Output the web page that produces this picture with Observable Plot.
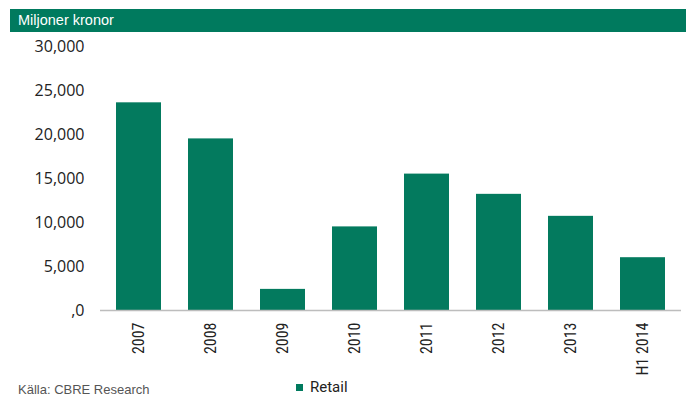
<!DOCTYPE html>
<html>
<head>
<meta charset="utf-8">
<script src="https://cdn.jsdelivr.net/npm/d3@7"></script>
<script src="https://cdn.jsdelivr.net/npm/@observablehq/plot@0.6"></script>
<style>
  html, body { margin: 0; padding: 0; background: #fff; width: 686px; height: 398px; overflow: hidden; position: relative; }
  #header { position: absolute; left: 10px; top: 9px; width: 676px; height: 23px; background: #007a5e; color: #fff;
    font-family: "Liberation Sans", Arial, sans-serif; font-size: 14.5px; line-height: 23px; box-sizing: border-box; padding-left: 8px; }
  #chart { position: absolute; left: 0; top: 31px; }
  #legend { position: absolute; left: 296px; top: 378px; font-family: "Liberation Sans Narrow", "Roboto", sans-serif; font-size: 15px; color: #222; display: flex; align-items: center; }
  #legend .sw { width: 7px; height: 7px; background: #007a5e; margin-right: 7px; }
  #caption { position: absolute; left: 18px; top: 383px; font-family: "Liberation Sans", Arial, sans-serif; font-size: 13px; line-height: 14px; color: #555; }
</style>
</head>
<body>
<div id="header">Miljoner kronor</div>
<div id="chart"></div>
<div id="legend"><span class="sw"></span><span>Retail</span></div>
<div id="caption">Källa: CBRE Research</div>
<script>
const categories = ["2007", "2008", "2009", "2010", "2011", "2012", "2013", "H1 2014"];
const retail = [23600, 19500, 2400, 9500, 15500, 13200, 10700, 6000];
const yTicks = [0, 5000, 10000, 15000, 20000, 25000, 30000];
const yTickLabels = [",0", "5,000", "10,000", "15,000", "20,000", "25,000", "30,000"];

const data = categories.map((c, i) => ({category: c, value: retail[i]}));
const green = "#037a5e";

const plot = Plot.plot({
  width: 686,
  height: 367,
  marginTop: 15,
  marginBottom: 88,
  marginLeft: 100,
  marginRight: 5,
  style: {fontFamily: "Open Sans, sans-serif", background: "transparent", overflow: "visible"},
  x: {domain: categories, paddingInner: 0.37, paddingOuter: 0.185, label: null},
  y: {domain: [0, 30000], label: null},
  marks: [
    Plot.ruleX([0], {frameAnchor: "left", stroke: "#bdbdbd", strokeWidth: 1.3}),
    Plot.barY(data, {x: "category", y: "value", fill: green}),
    Plot.ruleY([0], {stroke: "#bdbdbd", strokeWidth: 1.3}),
    Plot.axisY({ticks: yTicks, tickFormat: (d) => yTickLabels[yTicks.indexOf(d)], tickSize: 0, tickPadding: 16,
      fontSize: 16, fill: "#222", label: null}),
    Plot.axisX({tickRotate: -90, tickSize: 0, tickPadding: 12, fontSize: 16, fill: "#222",
      fontFamily: "Liberation Sans Narrow, Roboto Condensed, Roboto, sans-serif", label: null})
  ]
});
document.getElementById("chart").appendChild(plot);
</script>
</body>
</html>
